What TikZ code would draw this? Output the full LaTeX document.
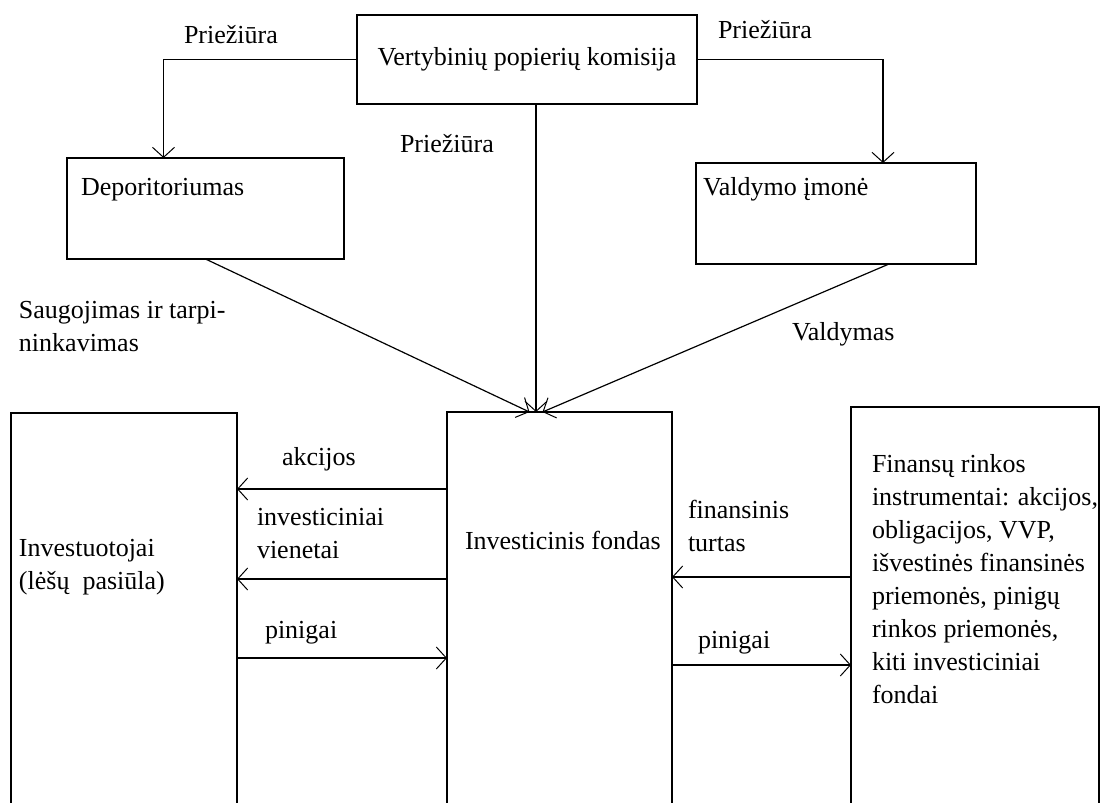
\documentclass[tikz,border=0pt]{standalone}
\usepackage{fontspec}
\setmainfont{Liberation Serif}
\usetikzlibrary{arrows.meta}

\begin{document}
\begin{tikzpicture}[x=1pt,y=-1pt,
  every node/.style={font=\fontsize{26}{33}\selectfont, inner sep=0pt, outer sep=0pt},
  box/.style={draw, line width=1.6pt, anchor=north west},
  lbl/.style={anchor=base west},
  multi/.style={anchor=base west, text width=300pt, align=flush left},
  arr/.style={line width=1.6pt, -{Straight Barb[length=10pt,width=22pt,line width=1pt]}},
  diag/.style={line width=1.2pt, -{Straight Barb[length=10pt,width=22pt,line width=1pt]}}]

  \useasboundingbox (0,0) rectangle (1101,803);
  \clip (0,0) rectangle (1101,803);

  % boxes
  \node (vpk) at (357,15) [box, minimum width=340pt, minimum height=89pt] {Vertybinių popierių komisija};
  \node (dep) at (67,158) [box, minimum width=277pt, minimum height=101pt] {};
  \node (vald) at (696,163) [box, minimum width=280pt, minimum height=101pt] {};
  \node (inv) at (11,413) [box, minimum width=226pt, minimum height=450pt] {};
  \node (fond) at (447,412) [box, minimum width=225pt, minimum height=450pt] {};
  \node (fin) at (851,407) [box, minimum width=248pt, minimum height=450pt] {};

  \node (deptxt) at (81,195) [lbl] {Deporitoriumas};
  \node (valdtxt) at (703,195) [lbl] {Valdymo įmonė};
  \node (invtxt) at (19,556) [multi] {Investuotojai\\(lėšų~ pasiūla)};
  \node (fondtxt) at (465,549) [lbl] {Investicinis fondas};
  \node (fintxt) at (872,472) [multi, text width=240pt] {Finansų rinkos\\instrumentai: akcijos,\\obligacijos, VVP,\\išvestinės finansinės\\priemonės, pinigų\\rinkos priemonės,\\kiti investiciniai\\fondai};

  % labels
  \node (pr1) at (184,43) [lbl] {Priežiūra};
  \node (pr2) at (718,38) [lbl] {Priežiūra};
  \node (pr3) at (400,152) [lbl] {Priežiūra};
  \node (saug) at (19,318) [multi] {Saugojimas ir tarpi-\\ninkavimas};
  \node (valdym) at (792,340) [lbl] {Valdymas};
  \node (akc) at (282,465) [lbl] {akcijos};
  \node (invv) at (257,525) [multi] {investiciniai\\vienetai};
  \node (pin1) at (265,638) [lbl] {pinigai};
  \node (fint) at (688,518) [multi] {finansinis\\turtas};
  \node (pin2) at (698,648) [lbl] {pinigai};

  % supervision
  \draw [arr] (vpk.west) -| ([xshift=-42pt]dep.north);
  \draw [arr] (vpk.east) -| ([xshift=47pt]vald.north);
  \draw [arr] ([xshift=9pt]vpk.south) -- ([xshift=9pt]vpk.south |- fond.north);
  \draw [diag] (dep.south) -- ([xshift=-30pt]fond.north);
  \draw [diag] ([xshift=53pt]vald.south) -- ([xshift=-17pt]fond.north);

  % flows
  \coordinate (a1) at ([yshift=-77pt]fond.north west);
  \coordinate (a2) at ([yshift=-167pt]fond.north west);
  \coordinate (b1) at ([yshift=-245pt]inv.north east);
  \coordinate (c1) at ([yshift=-170pt]fin.north west);
  \coordinate (d1) at ([yshift=-253pt]fond.north east);
  \draw [arr] (a1) -- (a1 -| inv.east);
  \draw [arr] (a2) -- (a2 -| inv.east);
  \draw [arr] (b1) -- (b1 -| fond.west);
  \draw [arr] (c1) -- (c1 -| fond.east);
  \draw [arr] (d1) -- (d1 -| fin.west);

\end{tikzpicture}
\end{document}
